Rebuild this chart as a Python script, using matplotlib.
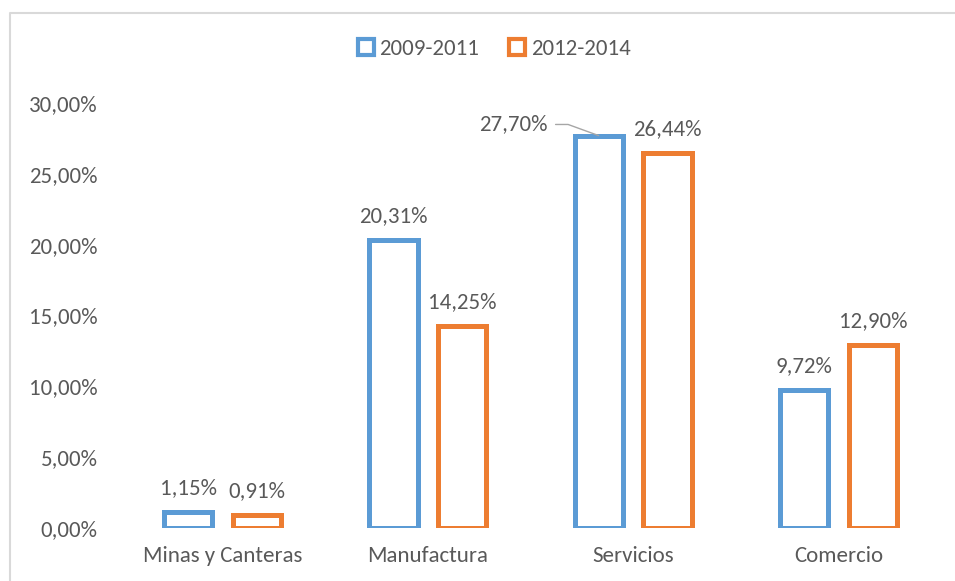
import matplotlib
matplotlib.use("Agg")
import matplotlib.pyplot as plt
from matplotlib.patches import Patch
from matplotlib.lines import Line2D
import numpy as np

categories = ["Minas y Canteras", "Manufactura", "Servicios", "Comercio"]
periodo_2009_2011 = [1.15, 20.31, 27.70, 9.72]
periodo_2012_2014 = [0.91, 14.25, 26.44, 12.90]
series_names = ["2009-2011", "2012-2014"]
yticks = [0, 5, 10, 15, 20, 25, 30]

BLUE = "#5B9BD5"
ORANGE = "#ED7D31"
TEXT = "#595959"
FS = 16.5

plt.rcParams["font.family"] = ["Carlito", "Lato", "DejaVu Sans"]

fig = plt.figure(figsize=(9.55, 5.81), dpi=100)
ax = fig.add_axes([120 / 955, 53 / 581, 821 / 955, 425 / 581])

x = np.arange(len(categories))
off = 0.168
w = 0.235
for vals, color, dx in [(periodo_2009_2011, BLUE, -off), (periodo_2012_2014, ORANGE, off)]:
    ax.bar(x + dx, vals, width=w, facecolor="white", edgecolor=color,
           linewidth=3.6)

def fmt(v):
    return f"{v:.2f}".replace(".", ",") + "%"

for i in range(len(categories)):
    for vals, dx in [(periodo_2009_2011, -off), (periodo_2012_2014, off)]:
        v = vals[i]
        if i == 2 and dx < 0:
            # label pulled left with a leader line
            ax.annotate(fmt(v), xy=(x[i] + dx, v), xytext=(-37, 8),
                        textcoords="offset points", ha="right", va="center",
                        fontsize=FS, color=TEXT,
                        arrowprops=dict(arrowstyle="-", color="#A6A6A6",
                                        lw=1, shrinkA=4, shrinkB=0,
                                        connectionstyle="angle,angleA=0,angleB=-20,rad=0"))
        else:
            ax.annotate(fmt(v), xy=(x[i] + dx, v), xytext=(0, 10),
                        textcoords="offset points", ha="center", va="bottom",
                        fontsize=FS, color=TEXT)

ax.set_xlim(-0.5, len(categories) - 0.5)
ax.set_ylim(0, 30)
ax.set_yticks(yticks)
ax.set_yticklabels([fmt(t) for t in yticks])
ax.set_xticks(x)
ax.set_xticklabels(categories)
ax.tick_params(axis="both", length=0, labelsize=FS, labelcolor=TEXT)
ax.tick_params(axis="y", pad=16)
ax.tick_params(axis="x", pad=13)
for s in ax.spines.values():
    s.set_visible(False)

handles = [Patch(facecolor="white", edgecolor=BLUE, linewidth=3),
           Patch(facecolor="white", edgecolor=ORANGE, linewidth=3)]
fig.legend(handles, series_names, loc="center", bbox_to_anchor=(494 / 955, 1 - 49 / 581),
           ncol=2, frameon=False, fontsize=FS, labelcolor=TEXT,
           handlelength=0.7, handleheight=0.7, handletextpad=0.25, columnspacing=1.3)

# chart frame (left and top edges)
fig.add_artist(Line2D([10 / 955, 10 / 955, 1], [0, 1 - 13 / 581, 1 - 13 / 581],
                      transform=fig.transFigure, color="#D9D9D9", lw=1.5))

fig.savefig("out.png", dpi=100)
